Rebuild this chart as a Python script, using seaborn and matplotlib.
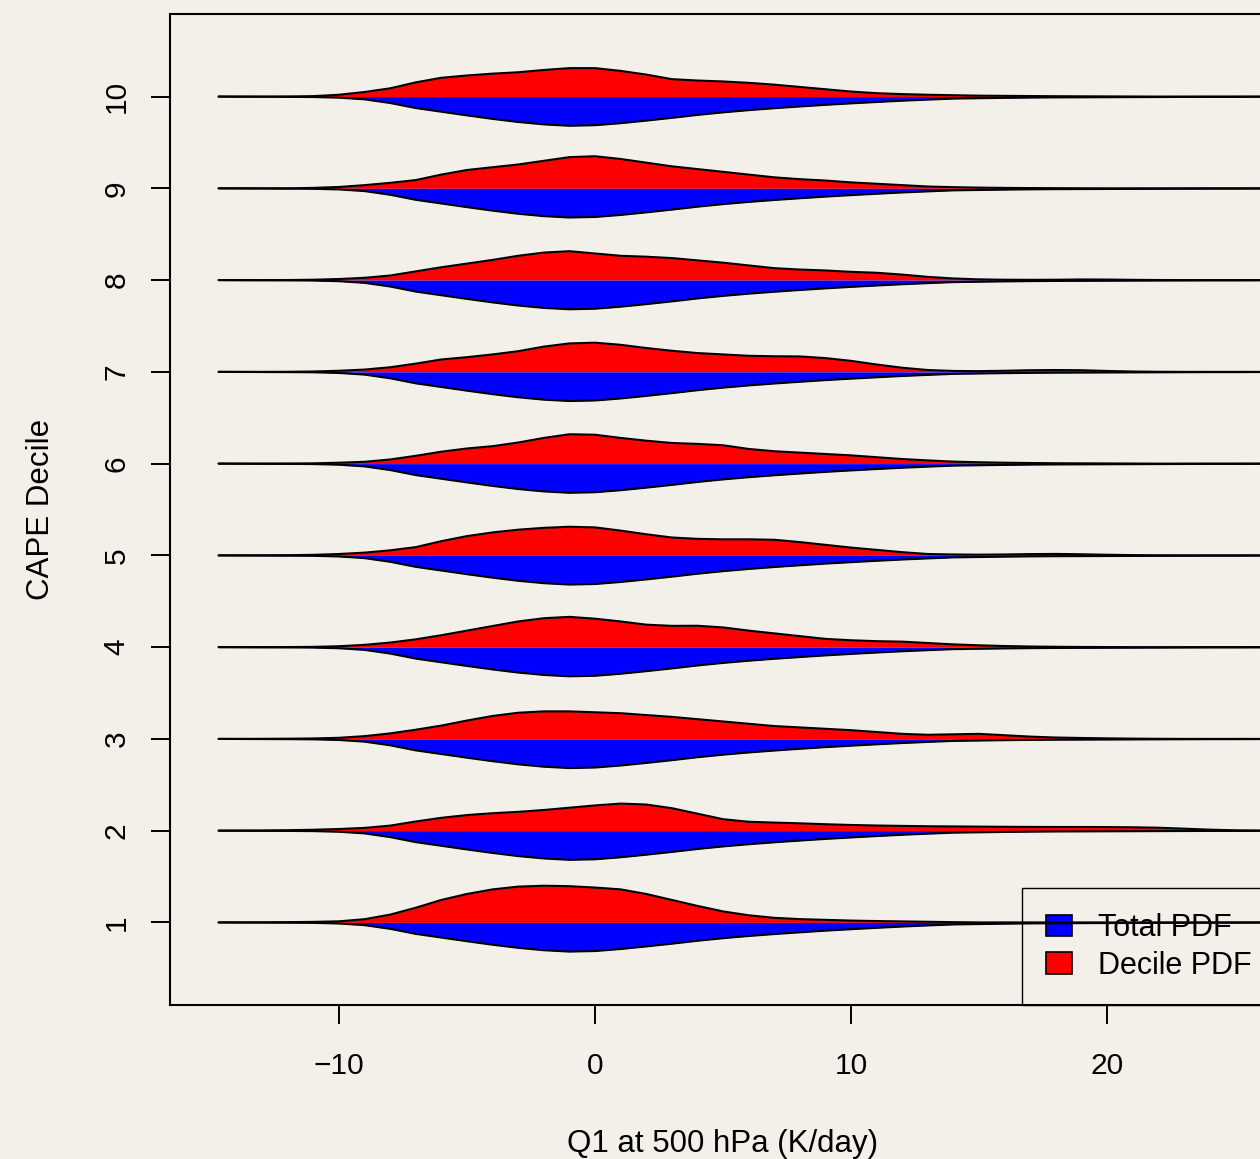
import numpy as np
import pandas as pd
import matplotlib
matplotlib.use("Agg")
import matplotlib.pyplot as plt
from matplotlib.patches import Patch
import seaborn as sns

# Q1 (K/day) positions at which the densities are given
q1_grid = [-14.7] + list(range(-14, 28))

# Half-widths of the beans (in decile-axis units)
total_pdf = [0, 0.001, 0.002, 0.003, 0.005, 0.012, 0.03, 0.07, 0.125, 0.165,
             0.205, 0.243, 0.277, 0.303, 0.318, 0.312, 0.29, 0.262, 0.232, 0.2,
             0.172, 0.148, 0.127, 0.108, 0.09, 0.074, 0.059, 0.045, 0.033, 0.022,
             0.018, 0.014, 0.011, 0.009, 0.008, 0.007, 0.006, 0.005, 0.004, 0.003,
             0.003, 0.002, 0.002]

decile_1 = [0, 0, 0.001, 0.003, 0.006, 0.012, 0.035, 0.085, 0.16, 0.245,
            0.31, 0.36, 0.39, 0.4, 0.395, 0.38, 0.36, 0.31, 0.245, 0.18,
            0.12, 0.078, 0.05, 0.036, 0.028, 0.02, 0.015, 0.011, 0.007, 0.003,
            0, 0, 0, 0, 0, 0, 0, 0, 0, 0,
            0, 0, 0]
decile_2 = [0, 0.001, 0.002, 0.005, 0.01, 0.018, 0.03, 0.055, 0.1, 0.14,
            0.17, 0.19, 0.205, 0.225, 0.25, 0.275, 0.295, 0.285, 0.245, 0.185,
            0.125, 0.097, 0.088, 0.08, 0.07, 0.062, 0.056, 0.052, 0.048, 0.046,
            0.044, 0.042, 0.041, 0.04, 0.04, 0.039, 0.037, 0.032, 0.022, 0.011,
            0.004, 0.001, 0]
decile_3 = [0, 0, 0.001, 0.002, 0.005, 0.012, 0.03, 0.06, 0.1, 0.145,
            0.2, 0.25, 0.285, 0.3, 0.3, 0.29, 0.28, 0.26, 0.24, 0.215,
            0.19, 0.165, 0.14, 0.125, 0.11, 0.095, 0.075, 0.055, 0.045, 0.05,
            0.055, 0.04, 0.025, 0.015, 0.01, 0.006, 0.003, 0.001, 0, 0,
            0, 0, 0]
decile_4 = [0, 0, 0, 0.001, 0.003, 0.01, 0.025, 0.05, 0.085, 0.13,
            0.18, 0.23, 0.28, 0.315, 0.33, 0.31, 0.28, 0.245, 0.232, 0.233,
            0.215, 0.18, 0.15, 0.12, 0.09, 0.075, 0.065, 0.06, 0.045, 0.03,
            0.02, 0.012, 0.007, 0.004, 0.002, 0.001, 0, 0, 0, 0,
            0, 0, 0]
decile_5 = [0, 0, 0.001, 0.002, 0.006, 0.015, 0.03, 0.055, 0.09, 0.155,
            0.21, 0.25, 0.28, 0.3, 0.312, 0.305, 0.27, 0.23, 0.195, 0.18,
            0.175, 0.175, 0.17, 0.145, 0.115, 0.085, 0.06, 0.035, 0.015, 0.01,
            0.008, 0.01, 0.014, 0.016, 0.012, 0.007, 0.003, 0.001, 0, 0,
            0, 0, 0]
decile_6 = [0, 0, 0, 0.001, 0.003, 0.01, 0.02, 0.045, 0.085, 0.13,
            0.165, 0.19, 0.23, 0.28, 0.32, 0.315, 0.28, 0.25, 0.225, 0.215,
            0.2, 0.16, 0.135, 0.12, 0.105, 0.09, 0.07, 0.05, 0.035, 0.022,
            0.015, 0.01, 0.007, 0.004, 0.003, 0.002, 0.001, 0, 0, 0,
            0, 0, 0]
decile_7 = [0, 0, 0, 0.001, 0.004, 0.012, 0.025, 0.05, 0.09, 0.135,
            0.16, 0.19, 0.225, 0.275, 0.31, 0.318, 0.295, 0.26, 0.23, 0.205,
            0.19, 0.175, 0.17, 0.168, 0.15, 0.12, 0.08, 0.045, 0.02, 0.01,
            0.008, 0.012, 0.018, 0.02, 0.018, 0.01, 0.004, 0.001, 0, 0,
            0, 0, 0]
decile_8 = [0, 0, 0, 0.001, 0.004, 0.012, 0.025, 0.05, 0.095, 0.14,
            0.18, 0.22, 0.265, 0.3, 0.315, 0.29, 0.265, 0.255, 0.24, 0.215,
            0.19, 0.16, 0.13, 0.115, 0.105, 0.09, 0.08, 0.06, 0.035, 0.018,
            0.008, 0.004, 0.003, 0.004, 0.007, 0.006, 0.003, 0.001, 0, 0,
            0, 0, 0]
decile_9 = [0, 0, 0, 0, 0.005, 0.015, 0.035, 0.06, 0.09, 0.15,
            0.2, 0.23, 0.26, 0.3, 0.34, 0.35, 0.32, 0.28, 0.24, 0.21,
            0.18, 0.15, 0.12, 0.1, 0.085, 0.065, 0.05, 0.035, 0.02, 0.013,
            0.008, 0.005, 0.003, 0.002, 0.001, 0, 0, 0, 0, 0,
            0, 0, 0]
decile_10 = [0, 0, 0, 0.001, 0.005, 0.02, 0.05, 0.09, 0.155, 0.205,
             0.23, 0.25, 0.265, 0.29, 0.31, 0.31, 0.28, 0.24, 0.19, 0.175,
             0.165, 0.15, 0.13, 0.105, 0.08, 0.055, 0.037, 0.027, 0.02, 0.015,
             0.01, 0.008, 0.006, 0.004, 0.003, 0.002, 0.001, 0, 0, 0,
             0, 0, 0]

deciles = [1, 2, 3, 4, 5, 6, 7, 8, 9, 10]
decile_pdfs = [decile_1, decile_2, decile_3, decile_4, decile_5,
               decile_6, decile_7, decile_8, decile_9, decile_10]
x_ticks = [-10, 0, 10, 20]
legend_labels = ["Total PDF", "Decile PDF"]

BG = "#f3f0ea"
sns.set_theme(style="ticks")
plt.rcParams["font.family"] = ["Liberation Sans", "DejaVu Sans"]
plt.rcParams["axes.unicode_minus"] = True

fig = plt.figure(figsize=(12.6, 11.59), dpi=100)
fig.patch.set_facecolor(BG)
ax = fig.add_axes([170 / 1260, 154 / 1159, 1106 / 1260, 991 / 1159])
ax.set_facecolor(BG)

x = np.array(q1_grid, dtype=float)
tot = np.array(total_pdf)

# long-form table of bean outlines: upper edge = decile PDF, lower edge = total PDF
rows = []
for k, pdf in zip(deciles, decile_pdfs):
    red = np.array(pdf)
    ax.fill_between(x, k, k + red, color="#ff0000", lw=0, zorder=2)
    ax.fill_between(x, k - tot, k, color="#0000ff", lw=0, zorder=2)
    for xv, yv in zip(x, k + red):
        rows.append({"q1": xv, "y": yv, "curve": f"{k}-decile"})
    for xv, yv in zip(x, k - tot):
        rows.append({"q1": xv, "y": yv, "curve": f"{k}-total"})
outline = pd.DataFrame(rows)

sns.lineplot(data=outline, x="q1", y="y", units="curve", estimator=None,
             color="black", lw=1.5, legend=False, ax=ax, zorder=3)

ax.set_xlim(-16.6, 26.6)
ax.set_ylim(0.1, 10.9)
ax.set_xticks(x_ticks)
ax.set_xticklabels([f"{t}".replace("-", "\u2212") for t in x_ticks])
ax.set_yticks(deciles)
ax.set_yticklabels([str(d) for d in deciles], rotation=90, va="center")

for side in ["left", "bottom", "top", "right"]:
    ax.spines[side].set_color("black")
    ax.spines[side].set_linewidth(1.5)

ax.tick_params(axis="both", length=13.5, width=1.4, color="black",
               labelsize=21.5, labelcolor="black")
ax.tick_params(axis="x", pad=20)
ax.tick_params(axis="y", pad=15)

ax.set_xlabel("Q1 at 500 hPa (K/day)", fontsize=22.5, color="black")
ax.set_ylabel("CAPE Decile", fontsize=22.5, color="black")
ax.xaxis.set_label_coords(0.5, -0.125)
ax.yaxis.set_label_coords(-0.103, 0.5)

handles = [Patch(facecolor="#0000ff", edgecolor="black", lw=1.2),
           Patch(facecolor="#ff0000", edgecolor="black", lw=1.2)]
leg = ax.legend(handles, legend_labels, loc="lower right", bbox_to_anchor=(1, 0),
                borderaxespad=0, fontsize=22, frameon=True, fancybox=False,
                framealpha=1, borderpad=0.8, labelspacing=0.25,
                handlelength=0.85, handleheight=0.7, handletextpad=0.85,
                labelcolor="black")
frame = leg.get_frame()
frame.set_facecolor("none")
frame.set_edgecolor("black")
frame.set_linewidth(1.0)
leg.set_zorder(1)

fig.savefig("out.png", dpi=100, facecolor=BG)
